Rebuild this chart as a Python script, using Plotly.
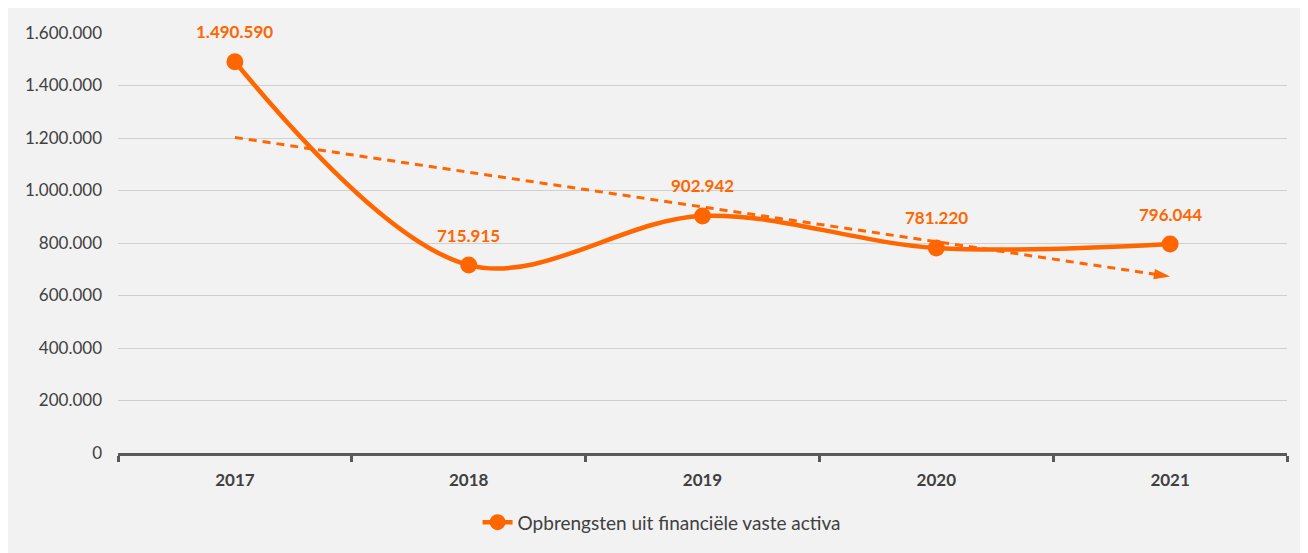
import numpy as np
import plotly.graph_objects as go

# Data
years = ["2017", "2018", "2019", "2020", "2021"]
values = [1490590, 715915, 902942, 781220, 796044]
series_name = "Opbrengsten uit financiële vaste activa"
y_ticks = [0, 200000, 400000, 600000, 800000, 1000000, 1200000, 1400000, 1600000]

ORANGE = "#FF6600"
TEXT = "#404040"
BG = "#F2F2F2"
FONT = "Lato, Open Sans, sans-serif"

# Linear trendline (like Excel)
xs = np.arange(len(values))
slope, intercept = np.polyfit(xs, values, 1)
trend = [intercept + slope * xs[0], intercept + slope * xs[-1]]


def fmt(v):
    return f"{v:,}".replace(",", ".")


fig = go.Figure()

# Trendline with arrow head
fig.add_trace(
    go.Scatter(
        x=[years[0], years[-1]],
        y=trend,
        mode="lines+markers",
        line=dict(color=ORANGE, width=3, dash="8px,6px"),
        marker=dict(
            symbol="arrow",
            size=[0, 17],
            angleref="previous",
            color=ORANGE,
            opacity=1,
            line=dict(width=0),
        ),
        showlegend=False,
        hoverinfo="skip",
    )
)

# Main series
fig.add_trace(
    go.Scatter(
        x=years,
        y=values,
        mode="lines+markers",
        name=series_name,
        line=dict(color=ORANGE, width=4.5, shape="spline", smoothing=1.0),
        marker=dict(size=17, color=ORANGE),
    )
)

# Data labels (category axis -> use index positions)
for i, v in enumerate(values):
    fig.add_annotation(
        x=i,
        y=v,
        text=f"<b>{fmt(v)}</b>",
        showarrow=False,
        yshift=30,
        font=dict(family=FONT, size=17, color=ORANGE),
    )

fig.update_layout(
    width=1300,
    height=545,
    margin=dict(l=110, r=21, t=25, b=97),
    paper_bgcolor=BG,
    plot_bgcolor=BG,
    font=dict(family=FONT, size=16, color=TEXT),
    showlegend=True,
    legend=dict(
        orientation="h",
        x=0.465,
        xanchor="center",
        y=-0.165,
        yanchor="middle",
        font=dict(size=19, color=TEXT),
        bgcolor="rgba(0,0,0,0)",
    ),
    xaxis=dict(
        type="category",
        categoryorder="array",
        categoryarray=years,
        range=[-0.5, 4.5],
        showgrid=False,
        showline=True,
        linecolor="#595959",
        linewidth=2.5,
        ticks="outside",
        tickson="boundaries",
        ticklen=6,
        tickwidth=2.5,
        tickcolor="#595959",
        tickfont=dict(size=17, color=TEXT, weight="bold"),
        ticklabelstandoff=10,
        zeroline=False,
    ),
    yaxis=dict(
        range=[0, 1600000],
        tickvals=y_ticks,
        ticktext=[fmt(t) for t in y_ticks],
        showgrid=True,
        gridcolor="#D0D0D0",
        gridwidth=1,
        zeroline=False,
        showline=False,
        tickfont=dict(size=17, color=TEXT),
        ticklabelstandoff=15,
    ),
)

fig.write_html("out.html")
